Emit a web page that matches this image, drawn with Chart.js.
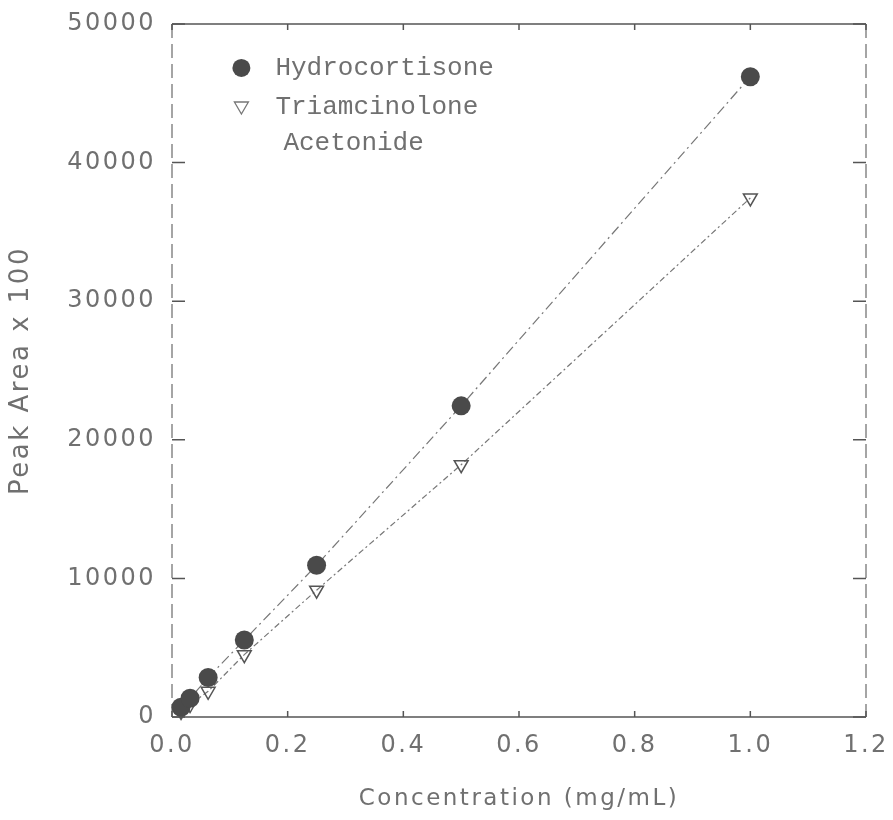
<!DOCTYPE html>
<html lang="en">
<head>
  <meta charset="UTF-8" />
  <title>Peak Area vs Concentration</title>
  <script src="https://cdn.jsdelivr.net/npm/chart.js"></script>
  <style>
    html, body { margin: 0; padding: 0; background: #fff; }
    .chart-wrapper { width: 893px; height: 820px; }
  </style>
</head>
<body>
<div class="chart-wrapper">
  <canvas id="calibChart"></canvas>
</div>

<script>
  // values
  const concentrations = [0.0156, 0.03125, 0.0625, 0.125, 0.25, 0.5, 1.0];
  const hydrocortisone = [700, 1350, 2850, 5550, 10950, 22450, 46200];
  const triamcinolone = [400, 900, 1850, 4500, 9150, 18200, 37450];

  const xTicks = [0, 0.2, 0.4, 0.6, 0.8, 1.0, 1.2];
  const yTicks = [0, 10000, 20000, 30000, 40000, 50000];

  const ink = '#555';
  const textInk = '#707070';

  const toPoints = ys => concentrations.map((x, i) => ({ x, y: ys[i] }));

  // box round the plot with inward ticks on every side
  const framePlugin = {
    id: 'frame',
    beforeDraw(chart) {
      chart.ctx.letterSpacing = '2.5px';
    },
    beforeDatasetsDraw(chart) {
      const { ctx, chartArea: a, scales } = chart;
      ctx.save();
      ctx.strokeStyle = ink;
      ctx.lineWidth = 1.5;
      ctx.beginPath();
      ctx.moveTo(a.left, a.top); ctx.lineTo(a.right, a.top);
      ctx.moveTo(a.left, a.bottom); ctx.lineTo(a.right, a.bottom);
      ctx.stroke();
      ctx.setLineDash([14, 6]);
      ctx.strokeStyle = '#888';
      ctx.beginPath();
      ctx.moveTo(a.left, a.top); ctx.lineTo(a.left, a.bottom);
      ctx.moveTo(a.right, a.top); ctx.lineTo(a.right, a.bottom);
      ctx.stroke();
      ctx.setLineDash([]);
      ctx.strokeStyle = ink;
      ctx.beginPath();
      yTicks.forEach(v => {
        const y = scales.y.getPixelForValue(v);
        ctx.moveTo(a.left, y); ctx.lineTo(a.left + 13, y);
        ctx.moveTo(a.right, y); ctx.lineTo(a.right - 13, y);
      });
      xTicks.forEach(v => {
        const x = scales.x.getPixelForValue(v);
        ctx.moveTo(x, a.bottom); ctx.lineTo(x, a.bottom - 6);
        ctx.moveTo(x, a.top); ctx.lineTo(x, a.top + 6);
      });
      ctx.stroke();
      ctx.restore();
    },
    afterDraw(chart) {
      const { ctx, scales } = chart;
      // legend inside the plot, top left
      const lx = scales.x.getPixelForValue(0.12);
      const tx = lx + 34;
      const rows = [
        scales.y.getPixelForValue(46830),
        scales.y.getPixelForValue(44010),
        scales.y.getPixelForValue(41410)
      ];
      ctx.save();
      ctx.letterSpacing = '0px';
      ctx.fillStyle = '#4a4a4a';
      ctx.beginPath();
      ctx.arc(lx, rows[0], 9, 0, Math.PI * 2);
      ctx.fill();
      ctx.strokeStyle = '#777';
      ctx.lineWidth = 1.3;
      ctx.beginPath();
      ctx.moveTo(lx - 7, rows[1] - 5);
      ctx.lineTo(lx + 7, rows[1] - 5);
      ctx.lineTo(lx, rows[1] + 7);
      ctx.closePath();
      ctx.stroke();
      ctx.fillStyle = textInk;
      ctx.font = '26px "Liberation Mono"';
      ctx.textBaseline = 'middle';
      ctx.fillText(chart.data.datasets[1].label, tx, rows[0]);
      ctx.fillText(chart.data.datasets[0].label[0], tx, rows[1]);
      ctx.fillText(chart.data.datasets[0].label[1], tx + 8, rows[2]);
      ctx.restore();
      ctx.letterSpacing = '0px';
    }
  };

  const ctx = document.getElementById('calibChart').getContext('2d');
  new Chart(ctx, {
    type: 'scatter',
    data: {
      datasets: [
        {
          label: ['Triamcinolone', 'Acetonide'],
          data: toPoints(triamcinolone),
          showLine: true,
          borderColor: '#777',
          borderWidth: 1.2,
          borderDash: [6, 3, 2, 3],
          pointStyle: 'triangle',
          rotation: 180,
          pointRadius: 8,
          pointBorderWidth: 1.5,
          pointBorderColor: ink,
          pointBackgroundColor: 'rgba(255,255,255,0)',
          order: 2
        },
        {
          label: 'Hydrocortisone',
          data: toPoints(hydrocortisone),
          showLine: true,
          borderColor: '#777',
          borderWidth: 1.2,
          borderDash: [10, 4, 2, 4],
          pointStyle: 'circle',
          pointRadius: 9.5,
          pointBorderWidth: 0,
          pointBackgroundColor: '#4a4a4a',
          order: 1
        }
      ]
    },
    options: {
      responsive: true,
      maintainAspectRatio: false,
      animation: false,
      clip: false,
      layout: { padding: { top: 24, right: 27, bottom: 0, left: 0 } },
      scales: {
        x: {
          type: 'linear',
          min: 0,
          max: 1.2,
          afterBuildTicks: s => { s.ticks = xTicks.map(v => ({ value: v })); },
          afterFit: s => { s.height = 103; s.paddingLeft = 0; s.paddingRight = 0; },
          grid: { display: false, drawTicks: false },
          border: { display: false },
          ticks: {
            padding: 14,
            color: textInk,
            font: { family: '"DejaVu Sans"', size: 24 },
            callback: v => v.toFixed(1)
          },
          title: {
            display: true,
            text: 'Concentration (mg/mL)',
            color: textInk,
            font: { family: '"DejaVu Sans"', size: 23 },
            padding: { top: 0, bottom: 7 }
          }
        },
        y: {
          type: 'linear',
          min: 0,
          max: 50000,
          afterBuildTicks: s => { s.ticks = yTicks.map(v => ({ value: v })); },
          afterFit: s => { s.width = 172; s.paddingTop = 0; s.paddingBottom = 0; },
          grid: { display: false, drawTicks: false },
          border: { display: false },
          ticks: {
            padding: 16,
            color: textInk,
            font: { family: '"DejaVu Sans"', size: 24 },
            callback: v => String(v)
          },
          title: {
            display: true,
            text: 'Peak Area x 100',
            color: textInk,
            font: { family: '"DejaVu Sans"', size: 26 },
            padding: { top: 6, bottom: 0 }
          }
        }
      },
      plugins: {
        legend: { display: false },
        tooltip: { enabled: false }
      }
    },
    plugins: [framePlugin]
  });
</script>
</body>
</html>
